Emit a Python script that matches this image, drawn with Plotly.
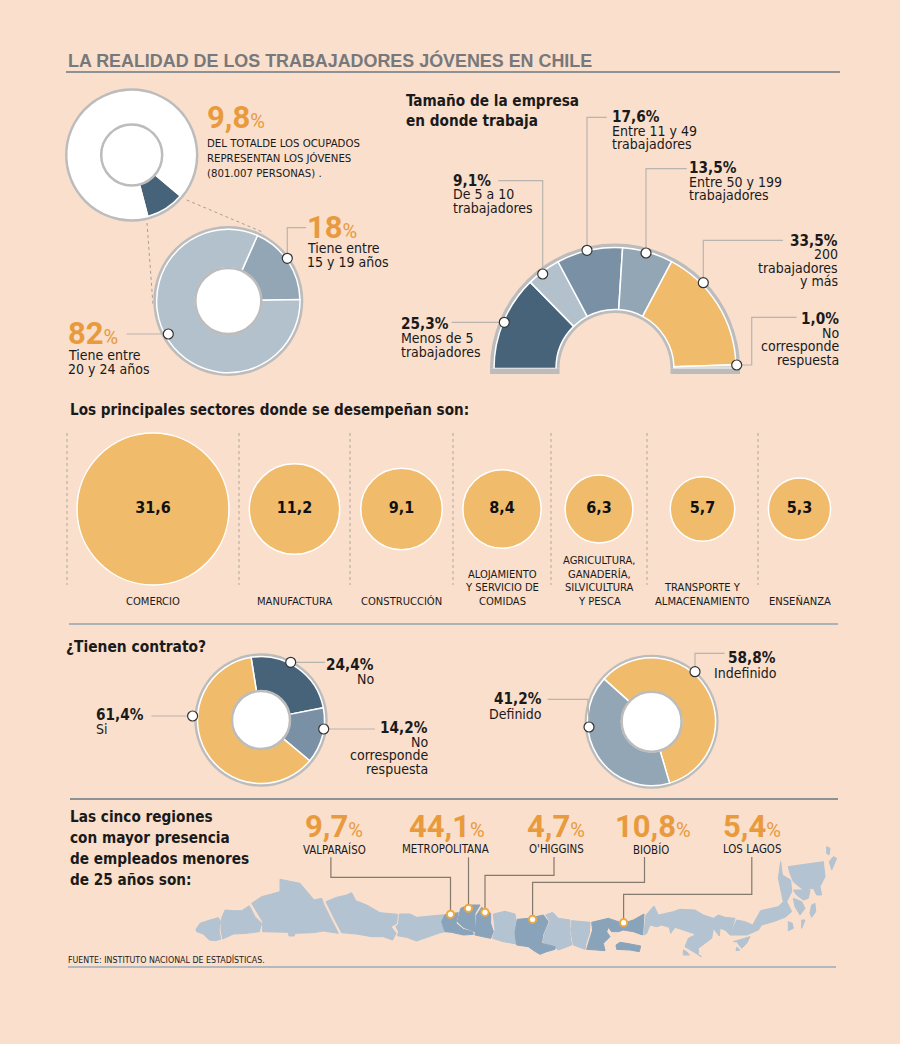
# Infografia: la realidad de los trabajadores jovenes en Chile
import plotly.graph_objects as go

# ---- datos ----
ocupados_vals = [9.8, 90.2]
edad_vals = [18, 82]

empresa_names = ['Menos de 5 trabajadores', 'De 5 a 10 trabajadores', 'Entre 11 y 49 trabajadores',
                 'Entre 50 y 199 trabajadores', '200 trabajadores y más', 'No corresponde respuesta']
empresa_vals = [25.3, 9.1, 17.6, 13.5, 33.5, 1.0]

sector_names = ['COMERCIO', 'MANUFACTURA', 'CONSTRUCCIÓN', 'ALOJAMIENTO Y SERVICIO DE COMIDAS',
                'AGRICULTURA, GANADERÍA, SILVICULTURA Y PESCA', 'TRANSPORTE Y ALMACENAMIENTO', 'ENSEÑANZA']
sector_vals = [31.6, 11.2, 9.1, 8.4, 6.3, 5.7, 5.3]

contrato_names = ['No', 'No corresponde respuesta', 'Si']
contrato_vals = [24.4, 14.2, 61.4]
tipo_names = ['Indefinido', 'Definido']
tipo_vals = [58.8, 41.2]

region_names = ['VALPARAÍSO', 'METROPOLITANA', "O'HIGGINS", 'BIOBÍO', 'LOS LAGOS']
region_vals = [9.7, 44.1, 4.7, 10.8, 5.4]

# ---- colores / fuentes ----
BG = '#f9dfcc'
YELLOW = '#f0bc6c'
DARK = '#47637a'
MID = '#7a91a5'
LIGHT = '#93a6b6'
PALE = '#b3c1cd'
ORANGE = '#e89a3c'
RING = '#bcbcbc'
LEAD = '#b9b5ae'
MAP_LIGHT = '#b3c3d1'
MAP_DARK = '#89a3bb'
BODY = 'DejaVu Sans Condensed, DejaVu Sans'
HEAD = 'DejaVu Sans Condensed, DejaVu Sans'
NUM = 'Roboto'

W, H = 900, 1044

# trazos a mano de las regiones, cada uno (origen x, origen y, puntos a escala 3x)
map_light = [
    (190, 870, [(18, 178), (30, 160), (60, 150), (85, 143), (92, 155), (87, 180), (92, 208), (75, 212), (58, 210), (40, 192), (20, 185)]),
    (190, 870, [(95, 145), (105, 120), (130, 122), (155, 122), (178, 107), (195, 140), (215, 160), (208, 185), (170, 190), (130, 192), (98, 207), (93, 180)]),
    (190, 870, [(185, 100), (215, 80), (245, 72), (270, 65), (270, 28), (300, 35), (330, 40), (372, 90), (395, 85), (402, 105), (425, 150), (445, 190), (400, 183), (370, 188), (315, 190), (313, 198), (297, 198), (295, 187), (218, 185), (218, 155), (200, 125)]),
    (190, 870, [(408, 95), (440, 82), (470, 75), (485, 68), (497, 92), (530, 105), (570, 128), (622, 133), (620, 160), (603, 170), (618, 190), (608, 210), (580, 200), (545, 200), (500, 192), (455, 188), (435, 150)]),
    (400, 890, [(-2, 72), (30, 72), (50, 82), (100, 78), (135, 74), (125, 95), (135, 125), (115, 130), (75, 145), (50, 153), (20, 142), (-8, 137), (-4, 126), (-12, 110), (-4, 100)]),
    (400, 890, [(280, 72), (315, 64), (345, 72), (350, 100), (345, 135), (350, 162), (310, 155), (278, 145), (285, 120)]),
    (400, 890, [(437, 75), (458, 67), (475, 85), (510, 90), (508, 120), (515, 165), (475, 180), (460, 167), (430, 158), (432, 135), (450, 95)]),
    (400, 890, [(515, 92), (570, 97), (568, 130), (558, 160), (555, 178), (520, 165), (512, 120)]),
    (630, 840, [(48, 225), (62, 210), (72, 198), (85, 225), (130, 215), (150, 208), (195, 210), (220, 225), (250, 235), (265, 225), (285, 232), (315, 235), (300, 285), (285, 270), (270, 265), (268, 288), (250, 265), (245, 295), (225, 310), (205, 325), (205, 345), (215, 350), (190, 335), (165, 320), (175, 295), (195, 285), (190, 280), (135, 262), (122, 280), (118, 262), (95, 255), (80, 260), (60, 255), (50, 280), (42, 285), (45, 250)]),
    (630, 840, [(160, 330), (170, 335), (178, 345), (160, 345)]),
    (630, 840, [(320, 322), (330, 330), (318, 332)]),
    (630, 840, [(320, 240), (345, 245), (368, 255), (392, 212), (445, 200), (460, 185), (445, 115), (452, 65), (457, 105), (482, 120), (485, 155), (470, 185), (485, 215), (465, 232), (430, 245), (395, 255), (385, 270), (350, 285), (325, 285), (300, 285)]),
    (630, 840, [(475, 80), (580, 65), (585, 110), (570, 140), (575, 165), (560, 165), (550, 145), (520, 150), (490, 125), (480, 100)]),
    (630, 840, [(490, 175), (515, 185), (525, 205), (510, 225), (495, 200)]),
    (630, 840, [(545, 195), (555, 190), (557, 215), (545, 232), (540, 220)]),
    (630, 840, [(490, 150), (540, 150), (535, 175), (520, 180), (500, 165)]),
    (630, 840, [(310, 305), (360, 290), (350, 310), (335, 325), (320, 305)]),
    (630, 840, [(475, 245), (487, 250), (490, 265), (475, 272)]),
    (630, 840, [(515, 240), (525, 240), (515, 265)]),
    (630, 840, [(590, 20), (600, 25), (597, 45), (590, 40)]),
    (630, 840, [(610, 50), (620, 55), (605, 90), (598, 65)]),
]
map_dark = [
    (400, 890, [(135, 74), (152, 72), (175, 68), (168, 100), (190, 118), (218, 125), (220, 133), (190, 135), (155, 127), (135, 125), (125, 95)]),
    (400, 890, [(182, 55), (205, 45), (240, 45), (225, 70), (225, 125), (190, 112), (172, 95)]),
    (400, 890, [(245, 52), (272, 70), (272, 100), (280, 125), (272, 145), (225, 135), (230, 75)]),
    (400, 890, [(352, 88), (385, 85), (430, 75), (445, 95), (428, 135), (425, 160), (465, 170), (465, 178), (440, 185), (420, 193), (403, 183), (385, 170), (350, 165), (345, 130)]),
    (400, 890, [(575, 97), (625, 85), (655, 95), (670, 100), (700, 90), (732, 72), (728, 135), (700, 125), (670, 120), (655, 125), (635, 125), (625, 112), (620, 125), (630, 140), (610, 160), (615, 182), (590, 180), (560, 178), (570, 145), (578, 120)]),
    (400, 890, [(648, 165), (660, 157), (680, 160), (722, 168), (718, 185), (690, 180), (650, 178)]),
]

fig = go.Figure()
shapes = []
notes = []


def pct(v, dec=1):
    return f'{v:.{dec}f}'.replace('.', ',') + '%'


def big_pct(v, dec=1):
    s = f'{v:.{dec}f}'.replace('.', ',')
    return f"<b>{s}</b><span style='font-size:20px'>%</span>"


def text(x, y, lines, size=14, color='#1a1a1a', anchor='left', font=BODY, step=13.5):
    # una anotacion por linea porque el interlineado del original es muy justo
    if isinstance(lines, str):
        lines = [lines]
    if anchor == 'left':
        x = x - 1
    for i, line in enumerate(lines):
        notes.append(dict(x=x, y=y + i * step, xref='x', yref='y', text=line, showarrow=False,
                          xanchor=anchor, yanchor='middle', borderpad=0,
                          font=dict(family=font, size=size, color=color)))


def lead(points, color=LEAD, width=1.2, dash='solid', layer='above'):
    path = 'M ' + ' L '.join(f'{x} {y}' for x, y in points)
    shapes.append(dict(type='path', path=path, xref='x', yref='y', layer=layer,
                       line=dict(color=color, width=width, dash=dash)))


def circle(cx, cy, r, fill, line=None, width=0, layer='above'):
    shapes.append(dict(type='circle', xref='x', yref='y', layer=layer, fillcolor=fill,
                       x0=cx - r, x1=cx + r, y0=cy - r, y1=cy + r,
                       line=dict(color=line or fill, width=width)))


def dot(cx, cy):
    circle(cx, cy, 5, 'white', '#333333', 1.2)


def pin(cx, cy):
    circle(cx, cy, 3.6, 'white', '#efa93f', 2)


def rule(x0, x1, y, color, width=1.5):
    lead([(x0, y), (x1, y)], color=color, width=width)


def pie(cx, cy, r, hole, vals, colors, rotation, line_w=1.5, line_c='white', labels=None):
    fig.add_trace(go.Pie(values=vals, labels=labels, marker=dict(colors=colors, line=dict(color=line_c, width=line_w)),
                         hole=hole, sort=False, direction='clockwise', rotation=rotation,
                         textinfo='none', hoverinfo='skip', showlegend=False,
                         domain=dict(x=[(cx - r) / W, (cx + r) / W], y=[1 - (cy + r) / H, 1 - (cy - r) / H])))


def donut(cx, cy, r_out, r_pie, r_hole, vals, colors, rotation):
    circle(cx, cy, r_out, RING, layer='below')
    pie(cx, cy, r_pie, r_hole / r_pie, vals, colors, rotation)
    circle(cx, cy, r_hole, 'white', RING, 2.5)


# ---- titulo ----
text(68, 60, '<b>LA REALIDAD DE LOS TRABAJADORES JÓVENES EN CHILE</b>', size=17.9, color='#77787b', font='Liberation Sans')
rule(66, 840, 72, '#8b9195', 2)

# ---- dona 9,8% y dona por edad ----
donut(131.7, 155, 66.7, 63.5, 30.5, ocupados_vals, [DARK, 'white'], 130)
lead([(186.7, 200), (261.7, 231.7)], color='#8f8f8f', width=0.8, dash='dot', layer='below')
lead([(147, 223), (153, 305)], color='#8f8f8f', width=0.8, dash='dot', layer='below')
text(207, 117, big_pct(ocupados_vals[0]), size=31, color=ORANGE, font=NUM)
text(207, 143, ['DEL TOTALDE LOS OCUPADOS', 'REPRESENTAN LOS JÓVENES', '(801.007 PERSONAS) .'], size=11.3, step=15)

donut(228.3, 301, 75, 71.7, 33, edad_vals, [LIGHT, PALE], 24)
text(307, 227, big_pct(edad_vals[0], 0), size=31, color=ORANGE, font=NUM)
text(307, 248, ['Tiene entre', '15 y 19 años'], size=14)
lead([(306, 227.7), (287.3, 227.7), (287.3, 258.3)])
dot(287.3, 258.3)
text(68, 333, big_pct(edad_vals[1], 0), size=31, color=ORANGE, font=NUM)
text(68, 355, ['Tiene entre', '20 y 24 años'], size=14)
lead([(126.7, 334), (168.3, 334)])
dot(168.3, 334)

# ---- semicirculo tamano de empresa ----
text(406, 101, ['<b>Tamaño de la empresa</b>', '<b>en donde trabaja</b>'], size=15.2, font=HEAD, step=20)
EMP_CX, EMP_CY = 615, 368.5
# anillo gris: medio pie y la otra mitad transparente
fig.add_trace(go.Pie(values=[sum(empresa_vals), sum(empresa_vals)], sort=False, direction='clockwise', rotation=-90,
                     hole=55.5 / 125, marker=dict(colors=[RING, 'rgba(0,0,0,0)'], line=dict(width=0)),
                     textinfo='none', hoverinfo='skip', showlegend=False,
                     domain=dict(x=[(EMP_CX - 125) / W, (EMP_CX + 125) / W], y=[1 - (EMP_CY + 125) / H, 1 - (EMP_CY - 125) / H])))
fig.add_trace(go.Pie(values=empresa_vals + [sum(empresa_vals)], labels=empresa_names + ['oculto'], sort=False,
                     direction='clockwise', rotation=-90, hole=59 / 121,
                     marker=dict(colors=[DARK, PALE, MID, LIGHT, YELLOW, '#d8d4cf', 'rgba(0,0,0,0)'],
                                 line=dict(color=['white'] * 6 + ['rgba(0,0,0,0)'], width=[1.5] * 6 + [0])),
                     textinfo='none', hoverinfo='skip', showlegend=False,
                     domain=dict(x=[(EMP_CX - 121) / W, (EMP_CX + 121) / W], y=[1 - (EMP_CY + 121) / H, 1 - (EMP_CY - 121) / H])))
for x0, x1 in [(490, 559.5), (670.5, 740)]:
    shapes.append(dict(type='rect', xref='x', yref='y', x0=x0, x1=x1, y0=EMP_CY, y1=374, layer='above',
                       fillcolor=RING, line=dict(width=0)))

emp_labels = [
    (401, 324.3, 'left', ['Menos de 5', 'trabajadores'], [(451.7, 322.3), (504.3, 322.3)]),
    (453, 180.7, 'left', ['De 5 a 10', 'trabajadores'], [(498.3, 180.7), (542.7, 180.7), (542.7, 274)]),
    (612, 117, 'left', ['Entre 11 y 49', 'trabajadores'], [(606.7, 117.3), (587, 117.3), (587, 250.3)]),
    (688.5, 168, 'left', ['Entre 50 y 199', 'trabajadores'], [(686.7, 168.7), (646, 168.7), (646, 253)]),
    (839, 240.7, 'right', ['200', 'trabajadores', 'y más'], [(783, 240.3), (703.3, 240.3), (703.3, 282.7)]),
    (840, 319, 'right', ['No', 'corresponde', 'respuesta'], [(796.7, 317.3), (751.7, 317.3), (751.7, 365), (736.7, 365)]),
]
for v, (x, y, anc, lines, pts) in zip(empresa_vals, emp_labels):
    text(x, y, f'<b>{pct(v)}</b>', size=15.2, anchor=anc)
    text(x, y + 13.7, lines, size=14, anchor=anc)
    lead(pts)
    dot(*pts[-1])

# ---- sectores ----
text(70, 409.5, '<b>Los principales sectores donde se desempeñan son:</b>', size=15.1, font=HEAD)
column_edges = [67, 239, 350, 453, 551, 647, 758, 841]
column_mid = [(a + b) / 2 for a, b in zip(column_edges, column_edges[1:])]
for x in column_edges[:-1]:
    lead([(x, 433), (x, 585)], color='#9a9a9a', width=0.8, dash='dot', layer='below')
fig.add_trace(go.Scatter(x=column_mid, y=[509] * len(sector_vals), mode='markers+text',
                         marker=dict(size=sector_vals, sizemode='area', sizeref=2 * sector_vals[0] / 152 ** 2,
                                     opacity=1, color=YELLOW, line=dict(color='white', width=1.5)),
                         text=[f'<b>{v:.1f}</b>'.replace('.', ',') for v in sector_vals],
                         textposition='middle center', textfont=dict(family=BODY, size=16, color='#111111'),
                         hoverinfo='skip', showlegend=False))
sector_lines = [['COMERCIO'], ['MANUFACTURA'], ['CONSTRUCCIÓN'], ['ALOJAMIENTO', 'Y SERVICIO DE', 'COMIDAS'],
                ['AGRICULTURA,', 'GANADERÍA,', 'SILVICULTURA', 'Y PESCA'], ['TRANSPORTE Y', 'ALMACENAMIENTO'], ['ENSEÑANZA']]
for x, lines in zip(column_mid, sector_lines):
    text(x, 601 - 13.5 * (len(lines) - 1), lines, size=11.1, anchor='center')
rule(69, 838, 624, '#8fa3b5')

# ---- contrato ----
text(66, 647, '<b>¿Tienen contrato?</b>', size=15.4, font=HEAD)
donut(261, 720, 66.7, 63.5, 29, contrato_vals, [DARK, MID, YELLOW], -9)
text(375, 665, f'<b>{pct(contrato_vals[0])}</b>', size=15.2, anchor='right')
text(375, 678.5, 'No', anchor='right')
lead([(290.7, 662.3), (325, 662.3)])
dot(290.7, 662.3)
text(429, 728, f'<b>{pct(contrato_vals[1])}</b>', size=15.2, anchor='right')
text(429, 741.5, ['No', 'corresponde', 'respuesta'], anchor='right')
lead([(323.7, 729), (375, 729)])
dot(323.7, 729)
text(95.5, 715, f'<b>{pct(contrato_vals[2])}</b>', size=15.2)
text(95.5, 728.5, 'Si')
lead([(151.4, 716), (192.6, 716)])
dot(192.6, 716)

donut(651.6, 721.7, 67, 64, 30, tipo_vals, [YELLOW, LIGHT], -48)
text(777, 657.7, f'<b>{pct(tipo_vals[0])}</b>', size=15.2, anchor='right')
text(778, 672.7, 'Indefinido', anchor='right')
lead([(695, 671.7), (695, 653.3), (724.6, 653.3)])
dot(695, 671.7)
text(543, 699, f'<b>{pct(tipo_vals[1])}</b>', size=15.2, anchor='right')
text(543, 714, 'Definido', anchor='right')
lead([(547.6, 699.3), (588, 699.3), (589, 727)])
dot(589, 727)
rule(70, 838, 799, '#8b9195', 2)

# ---- regiones ----
text(70, 817, ['<b>Las cinco regiones</b>', '<b>con mayor presencia</b>', '<b>de empleados menores</b>', '<b>de 25 años son:</b>'],
     size=15.2, font=HEAD, step=21)


def map_trace(parts, color):
    xs, ys = [], []
    for x0, y0, pts in parts:
        xs += [x0 + p[0] / 3 for p in pts] + [x0 + pts[0][0] / 3, None]
        ys += [y0 + p[1] / 3 for p in pts] + [y0 + pts[0][1] / 3, None]
    fig.add_trace(go.Scatter(x=xs, y=ys, mode='lines', fill='toself', fillcolor=color,
                             line=dict(color=color, width=1), hoverinfo='skip', showlegend=False))


map_trace(map_light, MAP_LIGHT)
map_trace(map_dark, MAP_DARK)

region_x = [334, 447, 556, 653, 752]
name_x = [334, 445, 556, 651, 752]
region_leads = [
    [(330.9, 857.3), (330.9, 877.3), (450.5, 877.3), (450.5, 914.3)],
    [(468.5, 857.3), (468.5, 908.3)],
    [(554, 857), (554, 875.3), (485, 875.3), (485, 912.3)],
    [(644.5, 857), (644.5, 882.3), (532.6, 882.3), (532.6, 919.3)],
    [(751.8, 857), (751.8, 894.3), (623.6, 894.3), (623.6, 922.7)],
]
for x, nx, name, v, pts in zip(region_x, name_x, region_names, region_vals, region_leads):
    text(x, 826.5, big_pct(v), size=31, color=ORANGE, font=NUM, anchor='center')
    text(nx, 849, name, size=11.4, anchor='center')
    lead(pts, color='#85786c', width=1.2)
    pin(*pts[-1])

text(68, 959, 'FUENTE: INSTITUTO NACIONAL DE ESTADÍSTICAS.', size=8.8)
rule(68, 836, 967, '#9aabb8')

fig.update_layout(width=W, height=H, margin=dict(l=0, r=0, t=0, b=0, pad=0),
                  paper_bgcolor=BG, plot_bgcolor=BG, shapes=shapes, annotations=notes,
                  xaxis=dict(range=[0, W], visible=False, fixedrange=True),
                  yaxis=dict(range=[H, 0], visible=False, fixedrange=True))

fig.write_html("out.html", config={'displayModeBar': False},
               post_script="document.body.style.margin='0';document.body.style.background='%s';" % BG)
